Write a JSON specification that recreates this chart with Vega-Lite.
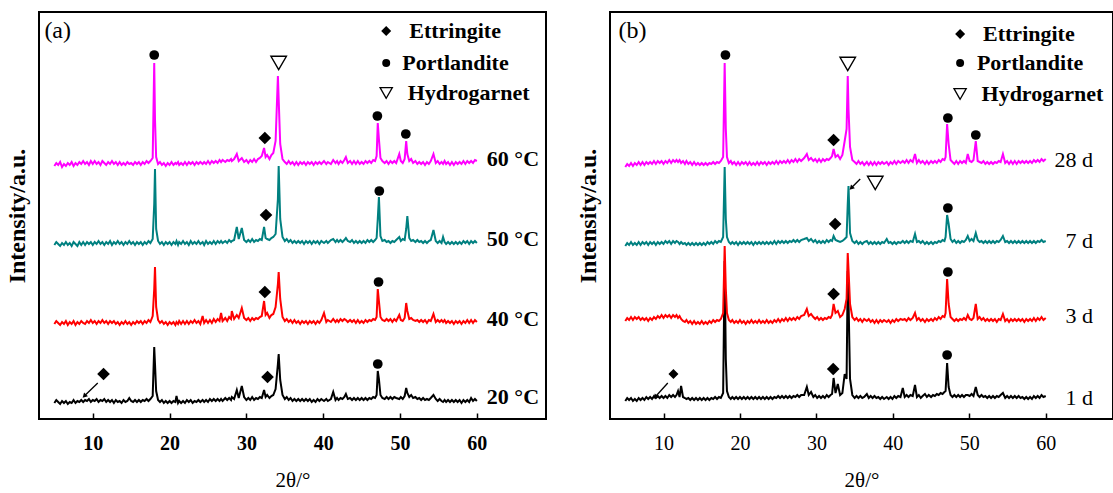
{
"$schema": "https://vega.github.io/schema/vega-lite/v6.json",
"background": "white",
"padding": {"left": 4, "top": 11, "right": 0, "bottom": 0},
"spacing": 28,
"config": {"view": {"stroke": "black", "strokeWidth": 2}, "font": "Liberation Serif"},
"datasets": {
"xa": [
{"x":5.0,"k":16,"r":95,"t":174,"m":253},{"x":5.25,"k":19,"r":98,"t":177,"m":256},{"x":5.5,"k":17,"r":96,"t":175,"m":254},{"x":5.75,"k":15,"r":94,"t":173,"m":257},{"x":6.0,"k":18,"r":97,"t":176,"m":252},{"x":6.25,"k":16,"r":95,"t":174,"m":255},{"x":6.5,"k":18,"r":98,"t":177,"m":253},{"x":6.75,"k":15,"r":94,"t":174,"m":256},{"x":7.0,"k":17,"r":97,"t":176,"m":254},{"x":7.25,"k":16,"r":95,"t":173,"m":257},{"x":7.5,"k":19,"r":98,"t":177,"m":253},{"x":7.75,"k":16,"r":94,"t":175,"m":256},{"x":8.0,"k":18,"r":97,"t":173,"m":254},{"x":8.25,"k":17,"r":95,"t":177,"m":257},{"x":8.5,"k":19,"r":98,"t":174,"m":255},{"x":8.75,"k":17,"r":96,"t":177,"m":258},{"x":9.0,"k":19,"r":95,"t":174,"m":255},{"x":9.25,"k":18,"r":98,"t":177,"m":257},{"x":9.5,"k":20,"r":96,"t":175,"m":254},{"x":9.75,"k":17,"r":99,"t":177,"m":258},{"x":10.0,"k":19,"r":96,"t":174,"m":255},{"x":10.25,"k":18,"r":98,"t":177,"m":258},{"x":10.5,"k":20,"r":95,"t":175,"m":255},{"x":10.75,"k":17,"r":98,"t":178,"m":257},{"x":11.0,"k":19,"r":96,"t":175,"m":254},{"x":11.25,"k":18,"r":99,"t":177,"m":258},{"x":11.5,"k":20,"r":96,"t":174,"m":256},{"x":11.75,"k":17,"r":98,"t":177,"m":254},{"x":12.0,"k":19,"r":95,"t":175,"m":257},{"x":12.25,"k":17,"r":98,"t":178,"m":255},{"x":12.5,"k":19,"r":96,"t":174,"m":258},{"x":12.75,"k":16,"r":98,"t":177,"m":255},{"x":13.0,"k":19,"r":95,"t":175,"m":257},{"x":13.25,"k":17,"r":97,"t":178,"m":254},{"x":13.5,"k":18,"r":94,"t":175,"m":257},{"x":13.75,"k":16,"r":97,"t":177,"m":254},{"x":14.0,"k":19,"r":95,"t":174,"m":256},{"x":14.25,"k":17,"r":98,"t":177,"m":254},{"x":14.5,"k":18,"r":95,"t":175,"m":257},{"x":14.75,"k":21,"r":97,"t":178,"m":255},{"x":15.0,"k":18,"r":94,"t":175,"m":256},{"x":15.25,"k":17,"r":97,"t":177,"m":254},{"x":15.5,"k":19,"r":95,"t":174,"m":257},{"x":15.75,"k":17,"r":98,"t":177,"m":255},{"x":16.0,"k":19,"r":96,"t":175,"m":257},{"x":16.25,"k":17,"r":98,"t":177,"m":254},{"x":16.5,"k":19,"r":95,"t":174,"m":257},{"x":16.75,"k":18,"r":98,"t":177,"m":255},{"x":17.0,"k":20,"r":96,"t":175,"m":258},{"x":17.25,"k":18,"r":99,"t":178,"m":256},{"x":17.5,"k":20,"r":97,"t":176,"m":258},{"x":17.8,"k":23,"r":103,"t":180,"m":261},{"x":18.0,"k":72,"r":130,"t":215,"m":356},{"x":18.1,"k":55,"r":152,"t":250,"m":300},{"x":18.25,"k":28,"r":112,"t":190,"m":262},{"x":18.5,"k":19,"r":99,"t":178,"m":255},{"x":18.75,"k":17,"r":96,"t":175,"m":257},{"x":19.0,"k":19,"r":98,"t":177,"m":254},{"x":19.25,"k":16,"r":95,"t":174,"m":256},{"x":19.5,"k":18,"r":97,"t":177,"m":253},{"x":19.75,"k":16,"r":94,"t":175,"m":256},{"x":20.0,"k":18,"r":97,"t":177,"m":254},{"x":20.25,"k":16,"r":95,"t":174,"m":257},{"x":20.5,"k":18,"r":97,"t":177,"m":254},{"x":20.75,"k":17,"r":94,"t":175,"m":256},{"x":20.9,"k":23,"r":97,"t":178,"m":255},{"x":21.1,"k":16,"r":95,"t":174,"m":257},{"x":21.25,"k":18,"r":98,"t":177,"m":254},{"x":21.5,"k":16,"r":95,"t":175,"m":256},{"x":21.75,"k":18,"r":98,"t":178,"m":254},{"x":22.0,"k":16,"r":95,"t":175,"m":257},{"x":22.25,"k":19,"r":98,"t":177,"m":254},{"x":22.5,"k":17,"r":95,"t":174,"m":257},{"x":22.75,"k":19,"r":98,"t":178,"m":255},{"x":23.0,"k":16,"r":96,"t":175,"m":257},{"x":23.25,"k":18,"r":99,"t":177,"m":254},{"x":23.5,"k":17,"r":96,"t":175,"m":257},{"x":23.75,"k":19,"r":98,"t":178,"m":255},{"x":24.0,"k":17,"r":95,"t":175,"m":257},{"x":24.3,"k":19,"r":103,"t":177,"m":255},{"x":24.5,"k":17,"r":96,"t":174,"m":257},{"x":24.75,"k":19,"r":99,"t":178,"m":255},{"x":25.0,"k":17,"r":96,"t":175,"m":258},{"x":25.25,"k":20,"r":99,"t":177,"m":255},{"x":25.5,"k":18,"r":96,"t":175,"m":258},{"x":25.75,"k":20,"r":100,"t":178,"m":256},{"x":26.0,"k":18,"r":97,"t":175,"m":258},{"x":26.25,"k":20,"r":100,"t":178,"m":256},{"x":26.5,"k":18,"r":98,"t":176,"m":259},{"x":26.7,"k":20,"r":106,"t":178,"m":257},{"x":26.9,"k":18,"r":98,"t":176,"m":259},{"x":27.25,"k":21,"r":101,"t":178,"m":257},{"x":27.5,"k":19,"r":98,"t":176,"m":259},{"x":27.75,"k":21,"r":102,"t":179,"m":258},{"x":28.0,"k":19,"r":100,"t":177,"m":260},{"x":28.1,"k":22,"r":108,"t":178,"m":258},{"x":28.4,"k":20,"r":100,"t":179,"m":260},{"x":28.75,"k":29,"r":104,"t":192,"m":265},{"x":29.0,"k":21,"r":101,"t":180,"m":258},{"x":29.4,"k":33,"r":111,"t":191,"m":261},{"x":29.7,"k":22,"r":101,"t":179,"m":257},{"x":30.0,"k":19,"r":99,"t":177,"m":259},{"x":30.25,"k":21,"r":101,"t":179,"m":256},{"x":30.5,"k":19,"r":98,"t":177,"m":259},{"x":30.75,"k":22,"r":101,"t":180,"m":257},{"x":31.0,"k":19,"r":99,"t":177,"m":260},{"x":31.25,"k":21,"r":101,"t":179,"m":257},{"x":31.5,"k":20,"r":100,"t":178,"m":260},{"x":31.75,"k":22,"r":102,"t":180,"m":261},{"x":32.0,"k":21,"r":103,"t":179,"m":263},{"x":32.3,"k":29,"r":118,"t":192,"m":271},{"x":32.5,"k":22,"r":104,"t":181,"m":262},{"x":32.7,"k":24,"r":106,"t":180,"m":264},{"x":33.0,"k":21,"r":101,"t":179,"m":260},{"x":33.25,"k":23,"r":104,"t":181,"m":264},{"x":33.5,"k":24,"r":105,"t":182,"m":266},{"x":33.8,"k":30,"r":112,"t":185,"m":278},{"x":34.1,"k":55,"r":135,"t":220,"m":343},{"x":34.2,"k":65,"r":147,"t":253,"m":320},{"x":34.4,"k":39,"r":120,"t":200,"m":275},{"x":34.7,"k":24,"r":102,"t":182,"m":260},{"x":35.0,"k":20,"r":98,"t":178,"m":257},{"x":35.25,"k":22,"r":100,"t":180,"m":255},{"x":35.5,"k":19,"r":97,"t":177,"m":258},{"x":35.75,"k":21,"r":99,"t":179,"m":255},{"x":36.0,"k":18,"r":96,"t":176,"m":257},{"x":36.25,"k":20,"r":99,"t":178,"m":254},{"x":36.5,"k":18,"r":96,"t":176,"m":257},{"x":36.75,"k":20,"r":98,"t":178,"m":254},{"x":37.0,"k":18,"r":95,"t":176,"m":257},{"x":37.25,"k":20,"r":98,"t":178,"m":255},{"x":37.5,"k":18,"r":96,"t":175,"m":257},{"x":37.75,"k":20,"r":98,"t":178,"m":254},{"x":38.0,"k":18,"r":95,"t":176,"m":257},{"x":38.25,"k":20,"r":98,"t":178,"m":255},{"x":38.5,"k":17,"r":96,"t":175,"m":257},{"x":38.75,"k":19,"r":98,"t":178,"m":254},{"x":39.0,"k":17,"r":95,"t":176,"m":257},{"x":39.25,"k":20,"r":98,"t":178,"m":255},{"x":39.5,"k":18,"r":96,"t":175,"m":257},{"x":39.75,"k":20,"r":99,"t":178,"m":255},{"x":40.1,"k":18,"r":106,"t":176,"m":258},{"x":40.4,"k":20,"r":97,"t":178,"m":255},{"x":40.6,"k":18,"r":99,"t":176,"m":257},{"x":41.0,"k":20,"r":97,"t":179,"m":255},{"x":41.3,"k":27,"r":100,"t":180,"m":259},{"x":41.6,"k":19,"r":97,"t":177,"m":256},{"x":41.8,"k":21,"r":99,"t":179,"m":258},{"x":42.0,"k":19,"r":97,"t":177,"m":255},{"x":42.25,"k":21,"r":100,"t":179,"m":258},{"x":42.5,"k":20,"r":98,"t":177,"m":256},{"x":42.75,"k":22,"r":100,"t":179,"m":259},{"x":42.95,"k":25,"r":99,"t":181,"m":262},{"x":43.2,"k":20,"r":97,"t":178,"m":256},{"x":43.5,"k":21,"r":99,"t":177,"m":258},{"x":43.75,"k":19,"r":97,"t":179,"m":255},{"x":44.0,"k":21,"r":99,"t":176,"m":258},{"x":44.25,"k":19,"r":96,"t":178,"m":255},{"x":44.5,"k":21,"r":99,"t":176,"m":258},{"x":44.75,"k":19,"r":96,"t":178,"m":255},{"x":45.0,"k":21,"r":98,"t":176,"m":257},{"x":45.25,"k":19,"r":96,"t":178,"m":255},{"x":45.5,"k":21,"r":99,"t":176,"m":258},{"x":45.75,"k":19,"r":97,"t":179,"m":256},{"x":46.0,"k":21,"r":99,"t":177,"m":258},{"x":46.25,"k":20,"r":98,"t":179,"m":256},{"x":46.5,"k":22,"r":100,"t":177,"m":259},{"x":46.75,"k":21,"r":99,"t":179,"m":258},{"x":46.95,"k":24,"r":102,"t":181,"m":263},{"x":47.1,"k":48,"r":130,"t":200,"m":296},{"x":47.25,"k":40,"r":118,"t":222,"m":280},{"x":47.45,"k":24,"r":102,"t":183,"m":261},{"x":47.7,"k":21,"r":99,"t":178,"m":258},{"x":48.0,"k":20,"r":98,"t":179,"m":256},{"x":48.25,"k":22,"r":100,"t":177,"m":258},{"x":48.5,"k":20,"r":98,"t":178,"m":255},{"x":48.75,"k":22,"r":100,"t":176,"m":258},{"x":49.0,"k":20,"r":97,"t":178,"m":256},{"x":49.25,"k":22,"r":100,"t":177,"m":258},{"x":49.5,"k":21,"r":98,"t":179,"m":256},{"x":49.9,"k":20,"r":104,"t":182,"m":265},{"x":50.1,"k":22,"r":99,"t":178,"m":258},{"x":50.35,"k":20,"r":98,"t":180,"m":256},{"x":50.6,"k":23,"r":101,"t":179,"m":260},{"x":50.8,"k":31,"r":116,"t":190,"m":278},{"x":50.95,"k":26,"r":108,"t":203,"m":265},{"x":51.2,"k":22,"r":100,"t":181,"m":258},{"x":51.45,"k":24,"r":101,"t":178,"m":260},{"x":51.7,"k":21,"r":99,"t":179,"m":256},{"x":52.0,"k":22,"r":98,"t":177,"m":258},{"x":52.25,"k":20,"r":99,"t":179,"m":255},{"x":52.5,"k":21,"r":97,"t":177,"m":257},{"x":52.75,"k":19,"r":99,"t":178,"m":255},{"x":53.0,"k":21,"r":97,"t":176,"m":257},{"x":53.25,"k":19,"r":99,"t":178,"m":254},{"x":53.5,"k":20,"r":96,"t":176,"m":257},{"x":53.75,"k":19,"r":99,"t":178,"m":255},{"x":54.0,"k":21,"r":98,"t":179,"m":258},{"x":54.35,"k":24,"r":105,"t":189,"m":265},{"x":54.65,"k":20,"r":97,"t":178,"m":256},{"x":54.9,"k":18,"r":99,"t":176,"m":258},{"x":55.15,"k":20,"r":97,"t":178,"m":255},{"x":55.4,"k":18,"r":99,"t":176,"m":257},{"x":55.6,"k":17,"r":97,"t":182,"m":255},{"x":55.8,"k":19,"r":99,"t":177,"m":258},{"x":56.0,"k":17,"r":96,"t":175,"m":255},{"x":56.25,"k":19,"r":98,"t":177,"m":257},{"x":56.5,"k":17,"r":96,"t":175,"m":254},{"x":56.75,"k":19,"r":98,"t":177,"m":257},{"x":57.0,"k":17,"r":95,"t":175,"m":254},{"x":57.25,"k":19,"r":98,"t":177,"m":257},{"x":57.5,"k":17,"r":96,"t":175,"m":255},{"x":57.75,"k":19,"r":98,"t":177,"m":257},{"x":58.0,"k":16,"r":95,"t":175,"m":255},{"x":58.25,"k":19,"r":98,"t":178,"m":258},{"x":58.5,"k":17,"r":96,"t":176,"m":255},{"x":58.75,"k":19,"r":99,"t":178,"m":258},{"x":59.0,"k":17,"r":96,"t":175,"m":256},{"x":59.25,"k":21,"r":99,"t":178,"m":258},{"x":59.5,"k":18,"r":96,"t":176,"m":256},{"x":59.75,"k":20,"r":99,"t":178,"m":259},{"x":60.0,"k":18,"r":97,"t":176,"m":258}
],
"xb": [
{"x":5.0,"k":18,"r":98,"t":173,"m":252},{"x":5.25,"k":21,"r":101,"t":176,"m":255},{"x":5.5,"k":19,"r":99,"t":174,"m":253},{"x":5.75,"k":21,"r":102,"t":177,"m":256},{"x":6.0,"k":18,"r":99,"t":174,"m":253},{"x":6.25,"k":20,"r":102,"t":176,"m":256},{"x":6.5,"k":18,"r":100,"t":174,"m":254},{"x":6.75,"k":21,"r":102,"t":177,"m":257},{"x":7.0,"k":19,"r":99,"t":174,"m":254},{"x":7.25,"k":21,"r":101,"t":177,"m":257},{"x":7.5,"k":19,"r":99,"t":175,"m":254},{"x":7.75,"k":22,"r":101,"t":177,"m":257},{"x":8.0,"k":20,"r":98,"t":174,"m":255},{"x":8.25,"k":22,"r":101,"t":177,"m":257},{"x":8.5,"k":20,"r":99,"t":175,"m":255},{"x":8.75,"k":23,"r":102,"t":177,"m":258},{"x":9.0,"k":21,"r":100,"t":174,"m":255},{"x":9.25,"k":23,"r":103,"t":177,"m":258},{"x":9.5,"k":21,"r":101,"t":175,"m":256},{"x":9.75,"k":23,"r":104,"t":177,"m":258},{"x":10.0,"k":21,"r":101,"t":175,"m":255},{"x":10.25,"k":23,"r":104,"t":178,"m":258},{"x":10.5,"k":21,"r":102,"t":176,"m":256},{"x":10.75,"k":24,"r":104,"t":178,"m":259},{"x":11.0,"k":22,"r":101,"t":175,"m":256},{"x":11.25,"k":24,"r":104,"t":178,"m":259},{"x":11.5,"k":22,"r":102,"t":176,"m":257},{"x":11.7,"k":24,"r":104,"t":178,"m":259},{"x":11.9,"k":28,"r":101,"t":177,"m":257},{"x":12.1,"k":22,"r":103,"t":175,"m":259},{"x":12.3,"k":33,"r":100,"t":177,"m":256},{"x":12.55,"k":22,"r":98,"t":175,"m":258},{"x":12.8,"k":21,"r":97,"t":176,"m":255},{"x":13.0,"k":20,"r":99,"t":174,"m":258},{"x":13.25,"k":21,"r":96,"t":176,"m":255},{"x":13.5,"k":19,"r":98,"t":174,"m":257},{"x":13.75,"k":21,"r":95,"t":176,"m":254},{"x":14.0,"k":19,"r":98,"t":174,"m":257},{"x":14.25,"k":21,"r":95,"t":176,"m":254},{"x":14.5,"k":19,"r":97,"t":174,"m":256},{"x":14.75,"k":21,"r":95,"t":176,"m":254},{"x":15.0,"k":19,"r":98,"t":174,"m":256},{"x":15.25,"k":21,"r":95,"t":176,"m":254},{"x":15.5,"k":19,"r":97,"t":174,"m":256},{"x":15.75,"k":21,"r":95,"t":177,"m":254},{"x":16.0,"k":19,"r":98,"t":175,"m":256},{"x":16.25,"k":21,"r":96,"t":177,"m":255},{"x":16.5,"k":20,"r":99,"t":175,"m":257},{"x":16.75,"k":22,"r":97,"t":178,"m":255},{"x":17.0,"k":20,"r":99,"t":176,"m":257},{"x":17.25,"k":22,"r":98,"t":178,"m":256},{"x":17.5,"k":21,"r":100,"t":177,"m":258},{"x":17.8,"k":26,"r":106,"t":182,"m":262},{"x":18.0,"k":158,"r":173,"t":252,"m":356},{"x":18.15,"k":60,"r":130,"t":200,"m":290},{"x":18.3,"k":28,"r":106,"t":182,"m":262},{"x":18.55,"k":22,"r":99,"t":177,"m":256},{"x":18.8,"k":20,"r":97,"t":175,"m":258},{"x":19.0,"k":22,"r":99,"t":177,"m":255},{"x":19.25,"k":20,"r":96,"t":175,"m":257},{"x":19.5,"k":22,"r":98,"t":177,"m":254},{"x":19.75,"k":20,"r":96,"t":174,"m":257},{"x":20.0,"k":22,"r":99,"t":177,"m":254},{"x":20.25,"k":20,"r":96,"t":175,"m":257},{"x":20.5,"k":22,"r":98,"t":177,"m":255},{"x":20.75,"k":20,"r":95,"t":175,"m":257},{"x":21.0,"k":22,"r":98,"t":177,"m":254},{"x":21.25,"k":20,"r":96,"t":175,"m":257},{"x":21.5,"k":22,"r":99,"t":177,"m":254},{"x":21.75,"k":20,"r":96,"t":174,"m":256},{"x":22.0,"k":22,"r":98,"t":177,"m":254},{"x":22.25,"k":20,"r":96,"t":175,"m":257},{"x":22.5,"k":22,"r":99,"t":177,"m":254},{"x":22.75,"k":20,"r":96,"t":175,"m":257},{"x":23.0,"k":22,"r":98,"t":177,"m":255},{"x":23.25,"k":20,"r":96,"t":175,"m":257},{"x":23.5,"k":22,"r":99,"t":177,"m":254},{"x":23.75,"k":20,"r":96,"t":175,"m":257},{"x":24.0,"k":22,"r":98,"t":177,"m":255},{"x":24.25,"k":20,"r":96,"t":175,"m":257},{"x":24.5,"k":22,"r":99,"t":178,"m":255},{"x":24.75,"k":21,"r":97,"t":175,"m":258},{"x":25.0,"k":23,"r":100,"t":178,"m":255},{"x":25.25,"k":21,"r":97,"t":176,"m":258},{"x":25.5,"k":23,"r":100,"t":178,"m":256},{"x":25.75,"k":21,"r":98,"t":176,"m":258},{"x":26.0,"k":23,"r":101,"t":178,"m":256},{"x":26.25,"k":21,"r":98,"t":176,"m":259},{"x":26.5,"k":23,"r":101,"t":178,"m":256},{"x":26.75,"k":21,"r":99,"t":177,"m":259},{"x":27.0,"k":23,"r":101,"t":179,"m":257},{"x":27.25,"k":22,"r":99,"t":177,"m":260},{"x":27.5,"k":24,"r":102,"t":179,"m":257},{"x":27.75,"k":22,"r":100,"t":177,"m":260},{"x":28.0,"k":24,"r":103,"t":179,"m":258},{"x":28.4,"k":24,"r":104,"t":180,"m":261},{"x":28.75,"k":32,"r":110,"t":181,"m":265},{"x":29.0,"k":24,"r":103,"t":178,"m":259},{"x":29.3,"k":27,"r":105,"t":180,"m":261},{"x":29.6,"k":22,"r":102,"t":177,"m":258},{"x":29.85,"k":24,"r":100,"t":179,"m":260},{"x":30.1,"k":21,"r":102,"t":176,"m":257},{"x":30.35,"k":23,"r":99,"t":178,"m":260},{"x":30.6,"k":21,"r":101,"t":176,"m":257},{"x":30.85,"k":23,"r":99,"t":178,"m":260},{"x":31.1,"k":21,"r":101,"t":176,"m":258},{"x":31.35,"k":24,"r":100,"t":179,"m":260},{"x":31.6,"k":22,"r":102,"t":177,"m":259},{"x":31.85,"k":24,"r":101,"t":179,"m":261},{"x":32.05,"k":25,"r":104,"t":178,"m":263},{"x":32.25,"k":41,"r":115,"t":183,"m":270},{"x":32.5,"k":26,"r":106,"t":179,"m":262},{"x":32.8,"k":35,"r":108,"t":178,"m":264},{"x":33.1,"k":24,"r":102,"t":177,"m":260},{"x":33.4,"k":26,"r":104,"t":178,"m":264},{"x":33.7,"k":45,"r":110,"t":180,"m":278},{"x":33.95,"k":40,"r":120,"t":182,"m":290},{"x":34.1,"k":148,"r":166,"t":215,"m":343},{"x":34.2,"k":120,"r":150,"t":233,"m":310},{"x":34.4,"k":40,"r":115,"t":186,"m":272},{"x":34.7,"k":24,"r":102,"t":178,"m":259},{"x":35.0,"k":21,"r":99,"t":176,"m":257},{"x":35.25,"k":23,"r":101,"t":178,"m":255},{"x":35.5,"k":21,"r":98,"t":175,"m":258},{"x":35.75,"k":23,"r":100,"t":177,"m":255},{"x":36.0,"k":21,"r":97,"t":175,"m":257},{"x":36.25,"k":22,"r":100,"t":177,"m":254},{"x":36.6,"k":25,"r":98,"t":178,"m":257},{"x":36.85,"k":21,"r":100,"t":175,"m":254},{"x":37.1,"k":23,"r":97,"t":177,"m":257},{"x":37.35,"k":21,"r":99,"t":175,"m":254},{"x":37.6,"k":23,"r":96,"t":177,"m":257},{"x":37.85,"k":21,"r":99,"t":175,"m":254},{"x":38.1,"k":22,"r":96,"t":177,"m":257},{"x":38.35,"k":20,"r":99,"t":175,"m":255},{"x":38.6,"k":22,"r":97,"t":177,"m":257},{"x":38.85,"k":20,"r":99,"t":176,"m":255},{"x":39.2,"k":22,"r":97,"t":180,"m":257},{"x":39.45,"k":20,"r":99,"t":176,"m":254},{"x":39.7,"k":22,"r":96,"t":177,"m":257},{"x":39.95,"k":20,"r":99,"t":175,"m":255},{"x":40.2,"k":23,"r":97,"t":177,"m":258},{"x":40.45,"k":21,"r":100,"t":175,"m":255},{"x":40.7,"k":23,"r":98,"t":177,"m":258},{"x":41.0,"k":22,"r":100,"t":176,"m":256},{"x":41.3,"k":31,"r":99,"t":178,"m":258},{"x":41.55,"k":22,"r":100,"t":176,"m":256},{"x":41.8,"k":24,"r":98,"t":178,"m":259},{"x":42.05,"k":22,"r":101,"t":176,"m":256},{"x":42.3,"k":24,"r":99,"t":178,"m":259},{"x":42.6,"k":23,"r":101,"t":177,"m":257},{"x":42.9,"k":34,"r":106,"t":185,"m":265},{"x":43.15,"k":22,"r":99,"t":177,"m":256},{"x":43.4,"k":24,"r":101,"t":178,"m":259},{"x":43.65,"k":21,"r":98,"t":176,"m":256},{"x":43.9,"k":23,"r":100,"t":178,"m":258},{"x":44.2,"k":25,"r":97,"t":175,"m":255},{"x":44.45,"k":22,"r":100,"t":177,"m":258},{"x":44.7,"k":24,"r":98,"t":175,"m":255},{"x":45.0,"k":22,"r":100,"t":177,"m":258},{"x":45.25,"k":24,"r":98,"t":175,"m":256},{"x":45.5,"k":23,"r":101,"t":177,"m":258},{"x":45.75,"k":25,"r":99,"t":176,"m":256},{"x":46.0,"k":24,"r":102,"t":178,"m":259},{"x":46.25,"k":26,"r":100,"t":177,"m":257},{"x":46.5,"k":25,"r":103,"t":179,"m":260},{"x":46.75,"k":27,"r":102,"t":178,"m":259},{"x":46.9,"k":28,"r":106,"t":182,"m":262},{"x":47.1,"k":56,"r":140,"t":204,"m":295},{"x":47.3,"k":32,"r":115,"t":195,"m":275},{"x":47.55,"k":24,"r":102,"t":180,"m":259},{"x":47.8,"k":22,"r":100,"t":177,"m":257},{"x":48.05,"k":24,"r":98,"t":179,"m":255},{"x":48.3,"k":22,"r":100,"t":176,"m":258},{"x":48.55,"k":24,"r":98,"t":178,"m":255},{"x":48.8,"k":22,"r":100,"t":176,"m":258},{"x":49.05,"k":24,"r":99,"t":178,"m":256},{"x":49.3,"k":22,"r":101,"t":177,"m":258},{"x":49.55,"k":24,"r":99,"t":179,"m":256},{"x":49.8,"k":24,"r":104,"t":183,"m":265},{"x":50.05,"k":23,"r":100,"t":178,"m":258},{"x":50.3,"k":25,"r":99,"t":180,"m":257},{"x":50.55,"k":23,"r":101,"t":178,"m":259},{"x":50.85,"k":32,"r":115,"t":186,"m":278},{"x":51.1,"k":24,"r":100,"t":179,"m":258},{"x":51.35,"k":22,"r":102,"t":177,"m":257},{"x":51.6,"k":24,"r":99,"t":178,"m":256},{"x":51.85,"k":22,"r":101,"t":176,"m":258},{"x":52.1,"k":23,"r":98,"t":178,"m":255},{"x":52.35,"k":21,"r":100,"t":176,"m":257},{"x":52.6,"k":23,"r":98,"t":178,"m":255},{"x":52.85,"k":21,"r":100,"t":176,"m":257},{"x":53.1,"k":23,"r":98,"t":178,"m":255},{"x":53.35,"k":21,"r":100,"t":176,"m":257},{"x":53.6,"k":23,"r":97,"t":178,"m":256},{"x":53.85,"k":22,"r":100,"t":177,"m":258},{"x":54.1,"k":24,"r":99,"t":179,"m":257},{"x":54.4,"k":26,"r":105,"t":183,"m":265},{"x":54.7,"k":21,"r":98,"t":177,"m":256},{"x":54.95,"k":23,"r":100,"t":178,"m":258},{"x":55.2,"k":21,"r":97,"t":176,"m":255},{"x":55.45,"k":23,"r":100,"t":178,"m":258},{"x":55.7,"k":21,"r":98,"t":176,"m":255},{"x":55.95,"k":23,"r":100,"t":178,"m":258},{"x":56.2,"k":21,"r":98,"t":176,"m":255},{"x":56.45,"k":23,"r":100,"t":178,"m":258},{"x":56.7,"k":21,"r":98,"t":176,"m":256},{"x":56.95,"k":22,"r":100,"t":178,"m":258},{"x":57.2,"k":20,"r":97,"t":176,"m":256},{"x":57.45,"k":22,"r":100,"t":178,"m":258},{"x":57.7,"k":20,"r":98,"t":176,"m":256},{"x":57.95,"k":22,"r":100,"t":178,"m":258},{"x":58.2,"k":20,"r":98,"t":176,"m":256},{"x":58.45,"k":23,"r":101,"t":178,"m":259},{"x":58.7,"k":21,"r":98,"t":176,"m":257},{"x":58.95,"k":23,"r":101,"t":178,"m":259},{"x":59.2,"k":21,"r":99,"t":177,"m":257},{"x":59.45,"k":24,"r":102,"t":179,"m":260},{"x":59.7,"k":22,"r":99,"t":177,"m":258},{"x":60.0,"k":23,"r":101,"t":178,"m":260}
],
"sym": [
{"p":"a","phase":"Portlandite","kind":"peak","x":18.0,"y":364},{"p":"a","phase":"Hydrogarnet","kind":"peak","x":34.2,"y":356},{"p":"a","phase":"Ettringite","kind":"peak","x":32.4,"y":281},{"p":"a","phase":"Portlandite","kind":"peak","x":47.05,"y":303},{"p":"a","phase":"Portlandite","kind":"peak","x":50.75,"y":285},{"p":"a","phase":"Ettringite","kind":"peak","x":32.55,"y":204},{"p":"a","phase":"Portlandite","kind":"peak","x":47.3,"y":228},{"p":"a","phase":"Ettringite","kind":"peak","x":32.4,"y":127},{"p":"a","phase":"Portlandite","kind":"peak","x":47.2,"y":137},{"p":"a","phase":"Ettringite","kind":"peak","x":32.75,"y":42},{"p":"a","phase":"Portlandite","kind":"peak","x":47.1,"y":55},{"p":"a","phase":"Ettringite","kind":"peak","x":11.4,"y":45},
{"p":"a","phase":"Ettringite","kind":"legend","x":48.2,"y":388},{"p":"a","phase":"Portlandite","kind":"legend","x":48.2,"y":356},{"p":"a","phase":"Hydrogarnet","kind":"legend","x":48.2,"y":326},
{"p":"b","phase":"Portlandite","kind":"peak","x":18.1,"y":364},{"p":"b","phase":"Hydrogarnet","kind":"peak","x":34.1,"y":355},{"p":"b","phase":"Ettringite","kind":"peak","x":32.25,"y":279},{"p":"b","phase":"Portlandite","kind":"peak","x":47.2,"y":301},{"p":"b","phase":"Portlandite","kind":"peak","x":50.85,"y":284},{"p":"b","phase":"Ettringite","kind":"peak","x":32.45,"y":195},{"p":"b","phase":"Hydrogarnet","kind":"peak","x":37.7,"y":236},{"p":"b","phase":"Portlandite","kind":"peak","x":47.2,"y":211},{"p":"b","phase":"Ettringite","kind":"peak","x":32.25,"y":125},{"p":"b","phase":"Portlandite","kind":"peak","x":47.2,"y":147},{"p":"b","phase":"Ettringite","kind":"peak","x":32.2,"y":50},{"p":"b","phase":"Portlandite","kind":"peak","x":47.1,"y":64},{"p":"b","phase":"Ettringite","kind":"minor","x":11.3,"y":45},
{"p":"b","phase":"Ettringite","kind":"legend","x":48.8,"y":385},{"p":"b","phase":"Portlandite","kind":"legend","x":48.8,"y":356},{"p":"b","phase":"Hydrogarnet","kind":"legend","x":48.8,"y":325}
],
"txt": [
{"p":"a","kind":"legend","x":51.2,"y":388,"label":"Ettringite"},{"p":"a","kind":"legend","x":50.3,"y":356,"label":"Portlandite"},{"p":"a","kind":"legend","x":51.0,"y":326,"label":"Hydrogarnet"},
{"p":"a","kind":"series","x":61.3,"y":260,"label":"60 °C"},{"p":"a","kind":"series","x":61.3,"y":180,"label":"50 °C"},{"p":"a","kind":"series","x":61.3,"y":100,"label":"40 °C"},{"p":"a","kind":"series","x":61.3,"y":22,"label":"20 °C"},
{"p":"a","kind":"panel","x":3.7,"y":388,"label":"(a)"},
{"p":"b","kind":"legend","x":51.8,"y":385,"label":"Ettringite"},{"p":"b","kind":"legend","x":51.0,"y":356,"label":"Portlandite"},{"p":"b","kind":"legend","x":51.6,"y":325,"label":"Hydrogarnet"},
{"p":"b","kind":"series","x":66.2,"y":259,"label":"28 d"},{"p":"b","kind":"series","x":66.2,"y":178,"label":"7 d"},{"p":"b","kind":"series","x":66.2,"y":103,"label":"3 d"},{"p":"b","kind":"series","x":66.2,"y":21,"label":"1 d"},
{"p":"b","kind":"panel","x":4.1,"y":388,"label":"(b)"}
],
"arr": [
{"p":"a","x":10.65,"y":36,"x2":8.9,"y2":23},
{"p":"b","x":10.56,"y":36,"x2":8.9,"y2":22},
{"p":"b","x":35.73,"y":240,"x2":34.56,"y2":231}
]
},
"hconcat": [
{
"width": 507, "height": 407,
"layer": [
{"data": {"name": "xa"}, "mark": {"type": "line", "color": "#000000", "strokeWidth": 2},
 "encoding": {
  "x": {"field": "x", "type": "quantitative", "scale": {"domain": [3, 69], "nice": false, "zero": false},
   "axis": {"title": "2θ/°", "values": [10,20,30,40,50,60], "grid": false, "domain": false, "tickSize": -6, "tickWidth": 1.5, "tickColor": "black", "labelFont": "Liberation Serif", "labelFontSize": 20, "labelFontWeight": "bold", "labelColor": "black", "labelPadding": 20, "titleFont": "Liberation Serif", "titleFontSize": 21, "titleFontWeight": "normal", "titleColor": "black", "titlePadding": 16}},
  "y": {"field": "k", "type": "quantitative", "scale": {"domain": [0, 407], "nice": false, "zero": false},
   "axis": {"title": "Intensity/a.u.", "labels": false, "ticks": false, "domain": false, "grid": false, "titleFont": "Liberation Serif", "titleFontSize": 24, "titleFontWeight": "bold", "titleColor": "black", "titlePadding": 10}}}},
{"data": {"name": "xa"}, "mark": {"type": "line", "color": "#FF0000", "strokeWidth": 2},
 "encoding": {"x": {"field": "x", "type": "quantitative", "title": "2θ/°"}, "y": {"field": "r", "type": "quantitative", "title": "Intensity/a.u."}}},
{"data": {"name": "xa"}, "mark": {"type": "line", "color": "#008080", "strokeWidth": 2},
 "encoding": {"x": {"field": "x", "type": "quantitative", "title": "2θ/°"}, "y": {"field": "t", "type": "quantitative", "title": "Intensity/a.u."}}},
{"data": {"name": "xa"}, "mark": {"type": "line", "color": "#FF00FF", "strokeWidth": 2},
 "encoding": {"x": {"field": "x", "type": "quantitative", "title": "2θ/°"}, "y": {"field": "m", "type": "quantitative", "title": "Intensity/a.u."}}},
{"data": {"name": "arr"}, "transform": [{"filter": "datum.p == 'a'"}], "mark": {"type": "rule", "color": "black", "strokeWidth": 1.3},
 "encoding": {"x": {"field": "x", "type": "quantitative", "title": "2θ/°"}, "y": {"field": "y", "type": "quantitative", "title": "Intensity/a.u."}, "x2": {"field": "x2"}, "y2": {"field": "y2"}}},
{"data": {"name": "arr"}, "transform": [{"filter": "datum.p == 'a'"}], "mark": {"type": "point", "shape": "triangle-up", "angle": 225, "filled": true, "color": "black", "size": 30, "opacity": 1},
 "encoding": {"x": {"field": "x2", "type": "quantitative", "title": "2θ/°"}, "y": {"field": "y2", "type": "quantitative", "title": "Intensity/a.u."}}},
{"data": {"name": "sym"}, "transform": [{"filter": "datum.p == 'a' && datum.kind == 'peak' && datum.phase == 'Ettringite'"}], "mark": {"type": "point", "shape": "diamond", "filled": true, "color": "black", "size": 160, "opacity": 1},
 "encoding": {"x": {"field": "x", "type": "quantitative", "title": "2θ/°"}, "y": {"field": "y", "type": "quantitative", "title": "Intensity/a.u."}}},
{"data": {"name": "sym"}, "transform": [{"filter": "datum.p == 'a' && datum.kind == 'peak' && datum.phase == 'Portlandite'"}], "mark": {"type": "point", "shape": "circle", "filled": true, "color": "black", "size": 95, "opacity": 1},
 "encoding": {"x": {"field": "x", "type": "quantitative", "title": "2θ/°"}, "y": {"field": "y", "type": "quantitative", "title": "Intensity/a.u."}}},
{"data": {"name": "sym"}, "transform": [{"filter": "datum.p == 'a' && datum.kind == 'peak' && datum.phase == 'Hydrogarnet'"}], "mark": {"type": "point", "shape": "triangle-down", "filled": true, "fill": "white", "stroke": "black", "strokeWidth": 1.4, "size": 240, "opacity": 1},
 "encoding": {"x": {"field": "x", "type": "quantitative", "title": "2θ/°"}, "y": {"field": "y", "type": "quantitative", "title": "Intensity/a.u."}}},
{"data": {"name": "sym"}, "transform": [{"filter": "datum.p == 'a' && datum.kind != 'peak' && datum.phase == 'Ettringite'"}], "mark": {"type": "point", "shape": "diamond", "filled": true, "color": "black", "size": 100, "opacity": 1},
 "encoding": {"x": {"field": "x", "type": "quantitative", "title": "2θ/°"}, "y": {"field": "y", "type": "quantitative", "title": "Intensity/a.u."}}},
{"data": {"name": "sym"}, "transform": [{"filter": "datum.p == 'a' && datum.kind != 'peak' && datum.phase == 'Portlandite'"}], "mark": {"type": "point", "shape": "circle", "filled": true, "color": "black", "size": 64, "opacity": 1},
 "encoding": {"x": {"field": "x", "type": "quantitative", "title": "2θ/°"}, "y": {"field": "y", "type": "quantitative", "title": "Intensity/a.u."}}},
{"data": {"name": "sym"}, "transform": [{"filter": "datum.p == 'a' && datum.kind != 'peak' && datum.phase == 'Hydrogarnet'"}], "mark": {"type": "point", "shape": "triangle-down", "filled": true, "fill": "white", "stroke": "black", "strokeWidth": 1.3, "size": 150, "opacity": 1},
 "encoding": {"x": {"field": "x", "type": "quantitative", "title": "2θ/°"}, "y": {"field": "y", "type": "quantitative", "title": "Intensity/a.u."}}},
{"data": {"name": "txt"}, "transform": [{"filter": "datum.p == 'a' && datum.kind != 'panel'"}], "mark": {"type": "text", "font": "Liberation Serif", "fontSize": 22, "fontWeight": "bold", "align": "left", "baseline": "middle", "color": "black"},
 "encoding": {"x": {"field": "x", "type": "quantitative", "title": "2θ/°"}, "y": {"field": "y", "type": "quantitative", "title": "Intensity/a.u."}, "text": {"field": "label"}}},
{"data": {"name": "txt"}, "transform": [{"filter": "datum.p == 'a' && datum.kind == 'panel'"}], "mark": {"type": "text", "font": "Liberation Serif", "fontSize": 24, "align": "left", "baseline": "middle", "color": "black"},
 "encoding": {"x": {"field": "x", "type": "quantitative", "title": "2θ/°"}, "y": {"field": "y", "type": "quantitative", "title": "Intensity/a.u."}, "text": {"field": "label"}}}
]
},
{
"width": 503, "height": 407,
"layer": [
{"data": {"name": "xb"}, "mark": {"type": "line", "color": "#000000", "strokeWidth": 2},
 "encoding": {
  "x": {"field": "x", "type": "quantitative", "scale": {"domain": [3, 68.8], "nice": false, "zero": false},
   "axis": {"title": "2θ/°", "values": [10,20,30,40,50,60], "grid": false, "domain": false, "tickSize": -6, "tickWidth": 1.5, "tickColor": "black", "labelFont": "Liberation Serif", "labelFontSize": 20, "labelFontWeight": "normal", "labelColor": "black", "labelPadding": 20, "titleFont": "Liberation Serif", "titleFontSize": 21, "titleFontWeight": "normal", "titleColor": "black", "titlePadding": 16}},
  "y": {"field": "k", "type": "quantitative", "scale": {"domain": [0, 407], "nice": false, "zero": false},
   "axis": {"title": "Intensity/a.u.", "labels": false, "ticks": false, "domain": false, "grid": false, "titleFont": "Liberation Serif", "titleFontSize": 24, "titleFontWeight": "bold", "titleColor": "black", "titlePadding": 10}}}},
{"data": {"name": "xb"}, "mark": {"type": "line", "color": "#FF0000", "strokeWidth": 2},
 "encoding": {"x": {"field": "x", "type": "quantitative", "title": "2θ/°"}, "y": {"field": "r", "type": "quantitative", "title": "Intensity/a.u."}}},
{"data": {"name": "xb"}, "mark": {"type": "line", "color": "#008080", "strokeWidth": 2},
 "encoding": {"x": {"field": "x", "type": "quantitative", "title": "2θ/°"}, "y": {"field": "t", "type": "quantitative", "title": "Intensity/a.u."}}},
{"data": {"name": "xb"}, "mark": {"type": "line", "color": "#FF00FF", "strokeWidth": 2},
 "encoding": {"x": {"field": "x", "type": "quantitative", "title": "2θ/°"}, "y": {"field": "m", "type": "quantitative", "title": "Intensity/a.u."}}},
{"data": {"name": "arr"}, "transform": [{"filter": "datum.p == 'b'"}], "mark": {"type": "rule", "color": "black", "strokeWidth": 1.3},
 "encoding": {"x": {"field": "x", "type": "quantitative", "title": "2θ/°"}, "y": {"field": "y", "type": "quantitative", "title": "Intensity/a.u."}, "x2": {"field": "x2"}, "y2": {"field": "y2"}}},
{"data": {"name": "arr"}, "transform": [{"filter": "datum.p == 'b'"}], "mark": {"type": "point", "shape": "triangle-up", "angle": 225, "filled": true, "color": "black", "size": 30, "opacity": 1},
 "encoding": {"x": {"field": "x2", "type": "quantitative", "title": "2θ/°"}, "y": {"field": "y2", "type": "quantitative", "title": "Intensity/a.u."}}},
{"data": {"name": "sym"}, "transform": [{"filter": "datum.p == 'b' && datum.kind == 'peak' && datum.phase == 'Ettringite'"}], "mark": {"type": "point", "shape": "diamond", "filled": true, "color": "black", "size": 160, "opacity": 1},
 "encoding": {"x": {"field": "x", "type": "quantitative", "title": "2θ/°"}, "y": {"field": "y", "type": "quantitative", "title": "Intensity/a.u."}}},
{"data": {"name": "sym"}, "transform": [{"filter": "datum.p == 'b' && datum.kind == 'peak' && datum.phase == 'Portlandite'"}], "mark": {"type": "point", "shape": "circle", "filled": true, "color": "black", "size": 95, "opacity": 1},
 "encoding": {"x": {"field": "x", "type": "quantitative", "title": "2θ/°"}, "y": {"field": "y", "type": "quantitative", "title": "Intensity/a.u."}}},
{"data": {"name": "sym"}, "transform": [{"filter": "datum.p == 'b' && datum.kind == 'peak' && datum.phase == 'Hydrogarnet'"}], "mark": {"type": "point", "shape": "triangle-down", "filled": true, "fill": "white", "stroke": "black", "strokeWidth": 1.4, "size": 240, "opacity": 1},
 "encoding": {"x": {"field": "x", "type": "quantitative", "title": "2θ/°"}, "y": {"field": "y", "type": "quantitative", "title": "Intensity/a.u."}}},
{"data": {"name": "sym"}, "transform": [{"filter": "datum.p == 'b' && datum.kind != 'peak' && datum.phase == 'Ettringite'"}], "mark": {"type": "point", "shape": "diamond", "filled": true, "color": "black", "size": 100, "opacity": 1},
 "encoding": {"x": {"field": "x", "type": "quantitative", "title": "2θ/°"}, "y": {"field": "y", "type": "quantitative", "title": "Intensity/a.u."}}},
{"data": {"name": "sym"}, "transform": [{"filter": "datum.p == 'b' && datum.kind != 'peak' && datum.phase == 'Portlandite'"}], "mark": {"type": "point", "shape": "circle", "filled": true, "color": "black", "size": 64, "opacity": 1},
 "encoding": {"x": {"field": "x", "type": "quantitative", "title": "2θ/°"}, "y": {"field": "y", "type": "quantitative", "title": "Intensity/a.u."}}},
{"data": {"name": "sym"}, "transform": [{"filter": "datum.p == 'b' && datum.kind != 'peak' && datum.phase == 'Hydrogarnet'"}], "mark": {"type": "point", "shape": "triangle-down", "filled": true, "fill": "white", "stroke": "black", "strokeWidth": 1.3, "size": 150, "opacity": 1},
 "encoding": {"x": {"field": "x", "type": "quantitative", "title": "2θ/°"}, "y": {"field": "y", "type": "quantitative", "title": "Intensity/a.u."}}},
{"data": {"name": "txt"}, "transform": [{"filter": "datum.p == 'b' && datum.kind == 'legend'"}], "mark": {"type": "text", "font": "Liberation Serif", "fontSize": 22, "fontWeight": "bold", "align": "left", "baseline": "middle", "color": "black"},
 "encoding": {"x": {"field": "x", "type": "quantitative", "title": "2θ/°"}, "y": {"field": "y", "type": "quantitative", "title": "Intensity/a.u."}, "text": {"field": "label"}}},
{"data": {"name": "txt"}, "transform": [{"filter": "datum.p == 'b' && datum.kind == 'series'"}], "mark": {"type": "text", "font": "Liberation Serif", "fontSize": 22, "align": "right", "baseline": "middle", "color": "black"},
 "encoding": {"x": {"field": "x", "type": "quantitative", "title": "2θ/°"}, "y": {"field": "y", "type": "quantitative", "title": "Intensity/a.u."}, "text": {"field": "label"}}},
{"data": {"name": "txt"}, "transform": [{"filter": "datum.p == 'b' && datum.kind == 'panel'"}], "mark": {"type": "text", "font": "Liberation Serif", "fontSize": 24, "align": "left", "baseline": "middle", "color": "black"},
 "encoding": {"x": {"field": "x", "type": "quantitative", "title": "2θ/°"}, "y": {"field": "y", "type": "quantitative", "title": "Intensity/a.u."}, "text": {"field": "label"}}}
]
}
]
}
